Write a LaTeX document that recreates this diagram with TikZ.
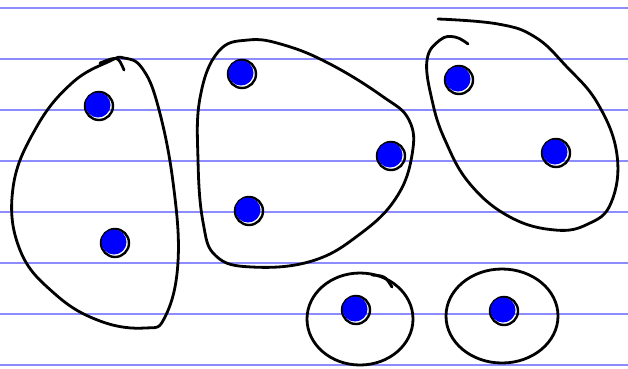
\documentclass[tikz,border=0pt]{standalone}
\usepackage{tikz}

\begin{document}
\begin{tikzpicture}[
    x=1pt, y=-1pt,
    rule/.style={draw=blue!45, line width=1.2pt},
    blob/.style={draw=black, line width=2.8pt, line cap=round, line join=round},
    ring/.style={draw=black, line width=2.4pt},
    dot/.style={fill=blue}
]
    \useasboundingbox[fill=white] (0,0) rectangle (628,368);

    % ruled paper
    \foreach \y in {8,59,110,161,212,263,314,365}
        \draw[rule] (0,\y) -- (628,\y);

    % left group
    \draw[blob] plot[smooth cycle, tension=0.7] coordinates {(110,61) (72,83) (36,128) (13,188) (20,250) (55,294) (100,321) (145,328) (165,317) (178,262) (173,182) (158,106) (142,68) (124,58)};
    \draw[blob] (100,63) .. controls (118,56) .. (124,70);
    \coordinate (a1) at (98,105);
    \coordinate (a2) at (114,242);

    % middle group
    \draw[blob] plot[smooth cycle, tension=0.7] coordinates {(248,40) (218,52) (200,98) (198,160) (203,222) (216,256) (252,267) (312,261) (360,234) (396,198) (412,155) (409,120) (382,96) (330,64) (284,45)};
    \coordinate (b1) at (241,73);
    \coordinate (b2) at (390,155);
    \coordinate (b3) at (248,210);

    % right group
    \draw[blob] plot[smooth, tension=0.7] coordinates {(438,19) (498,24) (535,37) (566,66) (598,104) (617,155) (611,203) (588,224) (555,230) (510,217) (470,184) (445,140) (432,100) (427,60) (440,40) (455,37) (468,44)};
    \coordinate (c1) at (458,79);
    \coordinate (c2) at (555,152);

    % single ones
    \draw[blob] (360,319) ellipse[x radius=53, y radius=46];
    \draw[blob] (372,275) .. controls (385,276) .. (392,287);
    \draw[blob] (502,316) ellipse[x radius=56, y radius=47];
    \coordinate (d1) at (355,309);
    \coordinate (e1) at (503,310);

    % points
    \foreach \p in {a1,a2,b1,b2,b3,c1,c2,d1,e1} {
        \draw[ring] ([shift={(1,1)}]\p) circle[radius=14];
        \fill[dot] (\p) circle[radius=12.5];
    }
\end{tikzpicture}
\end{document}
